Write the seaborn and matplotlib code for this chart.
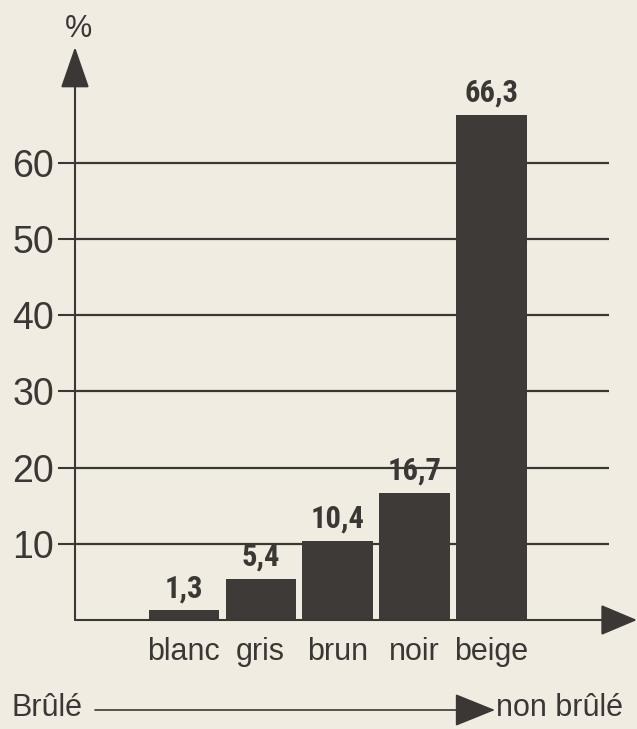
import pandas as pd
import seaborn as sns
import matplotlib.pyplot as plt
from matplotlib.patches import ArrowStyle

# data
categories = ["blanc", "gris", "brun", "noir", "beige"]
values = [1.3, 5.4, 10.4, 16.7, 66.3]
yticks = [10, 20, 30, 40, 50, 60]

paper = "#f0ece2"
ink = "#3b3734"
bar_color = "#3e3a37"

sns.set_style("white")
plt.rcParams["font.family"] = ["Liberation Sans", "DejaVu Sans"]

df = pd.DataFrame({"couleur": categories, "pct": values})

fig = plt.figure(figsize=(6.37, 7.29), dpi=100, facecolor=paper)
ax = fig.add_axes([75 / 637, 109 / 729, 562 / 637, 573 / 729])
ax.set_facecolor(paper)

sns.barplot(data=df, x="couleur", y="pct", color=bar_color, width=0.91,
            saturation=1, linewidth=0, ax=ax, zorder=2)

xmin, xmax = -1.41, 5.89
ax.set_xlim(xmin, xmax)
ax.set_ylim(0, 75.2)

# horizontal rules behind the bars
ax.hlines(yticks, xmin, 5.53, color=ink, lw=1.6, zorder=1)

# value labels in a narrow bold face
labels = [f"{v:.1f}".replace(".", ",") for v in values]
ax.bar_label(ax.containers[0], labels=labels, padding=5, fontsize=22,
             fontweight="bold", fontstretch="condensed", color=ink, zorder=4,
             family=["Liberation Sans Narrow", "Roboto Condensed", "DejaVu Sans"])

for s in ax.spines.values():
    s.set_visible(False)

ax.set_yticks(yticks)
ax.set_yticklabels([str(t) for t in yticks], fontsize=27, color=ink)
ax.tick_params(axis="y", direction="out", length=12, width=1.5, color=ink, pad=3, left=True)
ax.tick_params(axis="x", length=0, pad=12, labelsize=22, labelcolor=ink)
ax.set_xlabel("")
ax.set_ylabel("")

# axes with arrow heads
ax.annotate("", xy=(0, 1), xytext=(0, 0), xycoords="axes fraction",
            arrowprops=dict(arrowstyle=ArrowStyle("-|>", head_length=2.6, head_width=0.9),
                            mutation_scale=10, lw=1.5, color=ink, shrinkA=0, shrinkB=0))
ax.annotate("", xy=(1, 0), xytext=(0, 0), xycoords="axes fraction",
            arrowprops=dict(arrowstyle=ArrowStyle("-|>", head_length=2.3, head_width=0.97),
                            mutation_scale=10, lw=1.5, color=ink, shrinkA=0, shrinkB=0))

fig.text(78 / 637, 1 - 29 / 729, "%", fontsize=22, color=ink, ha="center", va="center")

# bottom scale: burnt -> not burnt
fig.text(12 / 637, 1 - 708 / 729, "Brûlé", fontsize=22, color=ink, ha="left", va="center")
fig.text(496 / 637, 1 - 708 / 729, "non brûlé", fontsize=22, color=ink, ha="left", va="center")
ax.annotate("", xy=(495 / 637, 1 - 710 / 729), xytext=(95 / 637, 1 - 710 / 729),
            xycoords="figure fraction",
            arrowprops=dict(arrowstyle=ArrowStyle("-|>", head_length=2.6, head_width=1.05),
                            mutation_scale=10, lw=1.2, color=ink, shrinkA=0, shrinkB=0))

fig.savefig("out.png", dpi=100, facecolor=paper)
